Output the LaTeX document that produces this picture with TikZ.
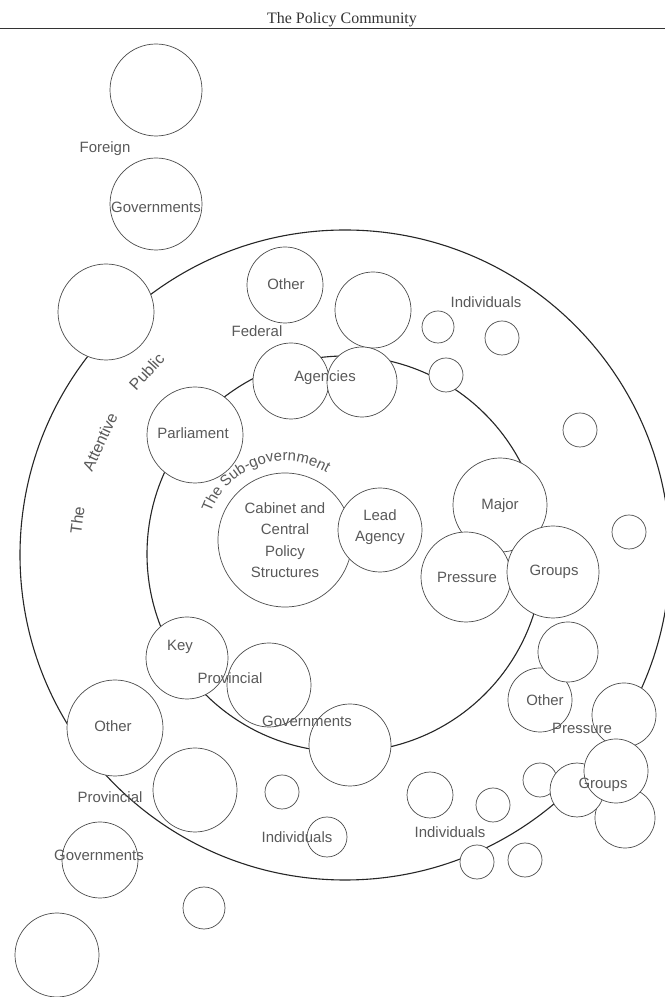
\documentclass[tikz,border=0pt]{standalone}
\usepackage{fontspec}
\setmainfont{Liberation Sans}
\newfontfamily\titlefont{Liberation Serif}
\usetikzlibrary{calc,decorations.text}
\tikzset{
  ring/.style={draw=black!85, line width=1.1bp},
  bub/.style={circle, draw=black!70, line width=0.7bp, fill=white, inner sep=0pt},
  lbl/.style={text=black!65, font=\fontsize{15}{18}\selectfont, inner sep=0pt},
  mlbl/.style={lbl, align=center, font=\fontsize{15}{21.5}\selectfont},
  arclbl/.style={lbl, font=\fontsize{16}{19}\selectfont},
}
\begin{document}
\begin{tikzpicture}[x=1bp,y=1bp]
\useasboundingbox (0,0) rectangle (665,997);
\fill[white] (0,0) rectangle (665,997);
% title and rule
\node[font=\titlefont\fontsize{16}{19}\selectfont, text=black!80, anchor=base] (title) at (342,973) {The Policy Community};
\coordinate (rl) at (0,968.5);
\coordinate (rr) at (665,968.5);
\draw[line width=1.2bp, black!80] (rl) -- (rr);
% rings
\coordinate (oc) at (345,442);
\coordinate (ic) at (345,443);
\draw[ring] (oc) circle[radius=325];
\draw[ring] (ic) circle[radius=198];
% circles
\node[bub, minimum size=92bp] (f1) at (156,907) {};
\node[bub, minimum size=92bp] (f2) at (156,793) {};
\node[bub, minimum size=96bp] (tl) at (106,685) {};
\node[bub, minimum size=76bp] (ofed) at (285,712) {};
\node[bub, minimum size=76bp] (emp1) at (373,687) {};
\node[bub, minimum size=76bp] (ag1) at (291,616) {};
\node[bub, minimum size=70bp] (ag2) at (362,615) {};
\node[bub, minimum size=32bp] (it1) at (438,670) {};
\node[bub, minimum size=34bp] (it2) at (502,659) {};
\node[bub, minimum size=34bp] (it3) at (446,622) {};
\node[bub, minimum size=34bp] (r1) at (580,567) {};
\node[bub, minimum size=34bp] (r2) at (629,465) {};
\node[bub, minimum size=96bp] (parl) at (195,562) {};
\node[bub, minimum size=134bp] (cab) at (285,457) {};
\node[bub, minimum size=84bp] (lead) at (380,467) {};
\node[bub, minimum size=94bp] (major) at (500,492) {};
\node[bub, minimum size=90bp] (press) at (466,420) {};
\node[bub, minimum size=92bp] (groups) at (553,425) {};
\node[bub, minimum size=64bp] (otherp) at (540,297) {};
\node[bub, minimum size=60bp] (emp2) at (568,345) {};
\node[bub, minimum size=64bp] (pressp) at (624,282) {};
\node[bub, minimum size=60bp] (emp3) at (625,179) {};
\node[bub, minimum size=34bp] (s1) at (540,217) {};
\node[bub, minimum size=54bp] (s2) at (577,207) {};
\node[bub, minimum size=64bp] (groupsp) at (616,226) {};
\node[bub, minimum size=46bp] (ib1) at (430,202) {};
\node[bub, minimum size=34bp] (ib2) at (493,192) {};
\node[bub, minimum size=34bp] (ib3) at (477,135) {};
\node[bub, minimum size=34bp] (ib4) at (525,137) {};
\node[bub, minimum size=82bp] (key) at (187,339) {};
\node[bub, minimum size=84bp] (prov) at (269,312) {};
\node[bub, minimum size=82bp] (gov) at (350,252) {};
\node[bub, minimum size=96bp] (otherl) at (115,269) {};
\node[bub, minimum size=84bp] (c1) at (195,207) {};
\node[bub, minimum size=34bp] (s3) at (282,205) {};
\node[bub, minimum size=40bp] (indb) at (327,160) {};
\node[bub, minimum size=76bp] (govl) at (100,137) {};
\node[bub, minimum size=42bp] (s4) at (204,89) {};
\node[bub, minimum size=84bp] (bigl) at (57,42) {};
% labels
\node[lbl] (foreignT) at (105,848) {Foreign};
\node[lbl] (govT1) at (156,790) {Governments};
\node[lbl] (otherFedT) at (286,713) {Other};
\node[lbl] (federalT) at (257,666) {Federal};
\node[lbl] (agenciesT) at (325,619) {Agencies};
\node[lbl] (indTopT) at (486,695) {Individuals};
\node[lbl] (parlT) at (193,564) {Parliament};
\node[mlbl] (cabT) at (285,457) {Cabinet and\\Central\\Policy\\Structures};
\node[mlbl] (leadT) at (380,470) {Lead\\Agency};
\node[lbl] (majorT) at (500,491) {Major};
\node[lbl] (pressT) at (467,420) {Pressure};
\node[lbl] (groupsT) at (554,425) {Groups};
\node[lbl] (keyT) at (180,350) {Key};
\node[lbl] (provT) at (230,319) {Provincial};
\node[lbl] (govT2) at (307,276) {Governments};
\node[lbl] (otherLT) at (113,271) {Other};
\node[lbl] (provLT) at (110,200) {Provincial};
\node[lbl] (govLT) at (99,142) {Governments};
\node[lbl] (indBT) at (297,160) {Individuals};
\node[lbl] (indB2T) at (450,165) {Individuals};
\node[lbl] (otherPT) at (545,297) {Other};
\node[lbl] (pressPT) at (582,269) {Pressure};
\node[lbl] (groupsPT) at (603,212) {Groups};
% curved titles
\node[arclbl, rotate=82.6] (apThe) at ($(oc)+(172.6:270)$) {The};
\node[arclbl, rotate=65.2] (apAtt) at ($(oc)+(155.2:270)$) {Attentive};
\node[arclbl, rotate=47.3] (apPub) at ($(oc)+(137.3:270)$) {Public};
\path[decorate, decoration={text along path, text color=black!65,
  text={|\fontsize{15}{18}\selectfont|The Sub-government}, text align=center}]
  (cab.center) ++(170:79) arc[start angle=170, end angle=48, radius=79];
\end{tikzpicture}
\end{document}
